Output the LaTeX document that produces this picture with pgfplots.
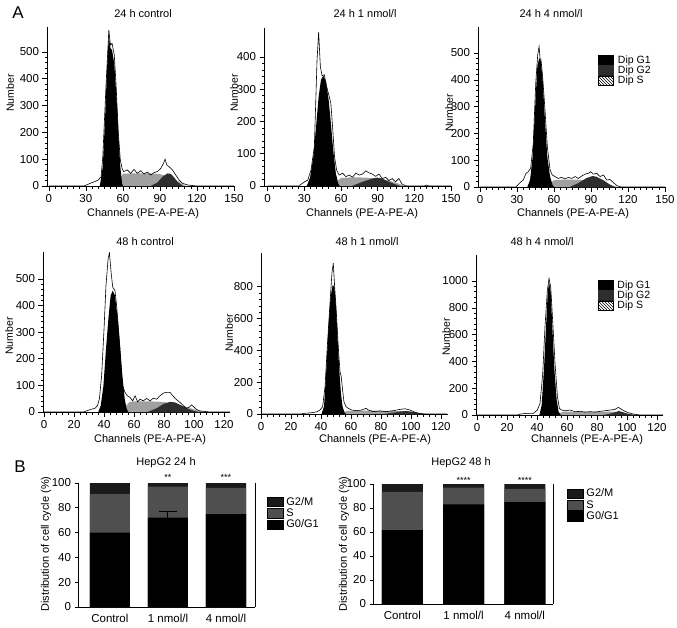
\documentclass[border=0pt]{standalone}
\usepackage{fontspec}
\setmainfont{Liberation Sans}
\usepackage{pgfplots}
\pgfplotsset{compat=1.18}
\usetikzlibrary{patterns}
\definecolor{sgray}{HTML}{A0A0A0}
\definecolor{gtwo}{HTML}{2E2E2E}
\definecolor{bS}{HTML}{4F4F4F}
\definecolor{bG}{HTML}{1A1A1A}
\pgfplotsset{
  hist/.style={
    scale only axis, anchor=south west, width=187pt,
    axis x line*=bottom, axis y line*=left,
    axis line style={line width=0.8pt, -},
    tick align=outside,
    major tick length=4.5pt, minor tick length=2.5pt,
    every tick/.style={black, line width=0.6pt},
    tick label style={font=\fontsize{11.5}{13}\selectfont},
    /pgf/number format/assume math mode=true,
    /pgf/number format/1000 sep={},
    ymin=0,
  },
  hrow1/.style={hist, xmax=150, xtick={0,30,...,150}, minor x tick num=5},
  hrow2/.style={hist, xmax=124, xtick={0,20,...,120}, minor x tick num=4},
  g1/.style={fill=black, draw=none},
  sfill/.style={fill=sgray, draw=none},
  g2fill/.style={fill=gtwo, draw=none},
  env/.style={black, line width=0.6pt, mark=none},
  histleg/.style={legend cell align=left,
    legend style={anchor=north west, draw=none, fill=none, inner sep=0pt, outer sep=0pt,
      font=\fontsize{10.5}{11}\selectfont, row sep=0pt, nodes={inner ysep=0.6pt, inner xsep=4.5pt}},
    legend image code/.code={\path[##1] (0pt,-4.8pt) rectangle (15pt,4.8pt);}},
  bbar/.style={scale only axis, anchor=south west, ymin=0, ymax=100, ytick={0,20,...,100},
    xtick={0,1,2}, xticklabels={Control,1 nmol/l,4 nmol/l}, clip=false,
    axis x line*=bottom, axis y line*=left, axis line style={line width=0.9pt,-},
    tick align=outside, major tick length=3.5pt, every tick/.style={black,line width=0.8pt},
    xtick style={draw=none},
    tick label style={font=\fontsize{11.5}{13}\selectfont},
    /pgf/number format/assume math mode=true,
    legend cell align=left,
    legend style={anchor=north west, draw=none, fill=none, inner sep=0pt, outer sep=0pt,
      font=\fontsize{11}{12}\selectfont, row sep=0pt, nodes={inner ysep=1pt, inner xsep=3pt}},
    legend image code/.code={\path[##1] (0pt,-4.7pt) rectangle (16pt,4.7pt);}},
  errb/.style={mark=none, draw=none, forget plot, error bars/.cd, y dir=plus, y explicit,
    error bar style={draw=black, line width=1pt},
    error mark options={draw=black, rotate=90, mark size=9pt, line width=1pt}},
}
\begin{document}
\begin{tikzpicture}
\useasboundingbox (0,0) rectangle (677pt,-627pt);
\fill[white] (0,0) rectangle (677pt,-627pt);

% ---------- Panel 1: 24 h control
\begin{axis}[hrow1, at={(47pt,-186pt)}, height=159pt, xmin=-1.5, ymax=593, ytick={0,100,...,500}, minor y tick num=4]
\addplot[sfill] coordinates {(56,0) (58,30) (60,46) (70,47) (80,47) (86,46) (90,44) (95,38) (100,30) (104,20) (108,8) (111,0)} \closedcycle;
\addplot[g2fill] coordinates {(82.5,0) (88,13) (92,34) (96.1,47) (98.8,45) (101.5,32) (104.2,15) (108.3,1) (109,0)} \closedcycle;
\addplot[g1] coordinates {(41.3,0) (43.7,72) (45.6,259) (47.2,445) (48.6,560) (49.9,514) (51.2,507) (53,457) (54.9,321) (56.6,172) (57.9,72) (59.3,10) (60,0)} \closedcycle;
\addplot[env] coordinates {(0,0) (28.3,0) (30,3) (34.6,12) (37,16) (39.9,22) (42.3,34) (43.7,109) (46.4,383) (48.6,582) (49.9,526) (51.2,532) (53,489) (54.4,383) (56.3,197) (57.9,97) (59.3,66) (60.6,54) (63.6,60) (66.3,47) (69,62) (71.7,47) (74.4,57) (77.1,45) (79.8,52) (82.5,41) (85.2,50) (88,54) (90.7,66) (92.9,85) (94.2,100) (95.5,79) (97.4,72) (100.1,60) (102.8,41) (105.6,22) (108.3,10) (112.3,4) (117.7,1) (120,0) (150,0)};
\end{axis}

% ---------- Panel 2: 24 h 1 nmol/l
\begin{axis}[hrow1, at={(264pt,-186pt)}, height=158pt, xmin=-3, ymax=490, ytick={0,100,...,400}, minor y tick num=4]
\addplot[sfill] coordinates {(55,0) (57,15) (60,25) (70,27) (80,26) (88,24) (95,20) (102,14) (108,6) (112,0)} \closedcycle;
\addplot[g2fill] coordinates {(69,0) (77.6,13) (85.6,23) (89.7,26) (93.8,23) (99.2,13) (104.6,5) (108.7,0)} \closedcycle;
\addplot[g1] coordinates {(32,0) (34.7,26) (37.4,91) (39.6,184) (41.7,277) (43.6,329) (45.5,342) (47.7,324) (49.9,267) (51.7,195) (53.6,112) (55.8,39) (57.7,8) (59,0)} \closedcycle;
\addplot[env] coordinates {(0,0) (26,0) (26.5,3) (30.1,13) (32.8,18) (35.5,50) (38.2,123) (40.4,391) (41.7,477) (43.1,371) (44.5,342) (46.3,345) (48.2,309) (50.4,277) (51.7,256) (53.1,184) (54.7,91) (56.4,50) (58.5,34) (61.3,40) (64,29) (66.7,34) (69.4,27) (72.1,40) (74.8,34) (77.6,37) (80.2,47) (82.9,41) (85.6,37) (88.4,30) (91.1,37) (93.8,23) (96.5,27) (99.2,17) (101.9,23) (104.6,13) (107.3,23) (110,6) (112.7,1) (115,0) (128,0) (130,3) (132,0) (150,0)};
\end{axis}

% ---------- Panel 3: 24 h 4 nmol/l
\begin{axis}[hrow1, histleg, at={(478pt,-187pt)}, height=160pt, xmin=-1.6, ymax=597, ytick={0,100,...,500}, minor y tick num=4,
  legend style={at={(0.642,0.825)}}]
\addplot[sfill, forget plot] coordinates {(55,0) (57,15) (60,25) (65,27) (70,28) (75,28) (80,27) (86,25) (92,20) (98,14) (104,8) (110,2) (113,0)} \closedcycle;
\addplot[g2fill, forget plot] coordinates {(73,0) (79.8,15) (86.6,34) (91.4,41) (94.6,38) (100.1,25) (105.4,9) (109.5,0)} \closedcycle;
\addplot[g1, forget plot] coordinates {(38.4,0) (40.6,26) (42.7,113) (44.6,288) (46.5,449) (47.9,480) (49.2,474) (50.8,400) (52.7,250) (54.6,113) (56.8,39) (58.9,7) (60.3,0)} \closedcycle;
\addplot[env, forget plot] coordinates {(0,0) (29.2,0) (32.4,16) (35.1,26) (37.3,51) (39.2,57) (41.1,70) (43.2,163) (45.2,387) (46.8,493) (47.9,524) (48.7,480) (49.5,474) (50.8,412) (52.7,288) (54.6,151) (56.8,64) (58.6,45) (60.8,39) (63.5,32) (66.2,36) (69,30) (71.6,36) (74.4,32) (77.1,39) (79.8,32) (82.5,41) (85.2,48) (87.9,51) (89.8,57) (92,48) (94.6,51) (97.3,39) (100.1,45) (102.7,26) (105.4,28) (108.2,16) (110.8,6) (113.5,1) (116,0) (150,0)};
\addlegendimage{fill=black, draw=black}
\addlegendentry{Dip G1}
\addlegendimage{fill=gtwo, draw=gtwo}
\addlegendentry{Dip G2}
\addlegendimage{draw=black, pattern=north west lines}
\addlegendentry{Dip S}
\end{axis}

% ---------- Panel 4: 48 h control
\begin{axis}[hrow2, at={(43pt,-412pt)}, height=160pt, xmin=-0.7, ymax=601, ytick={0,100,...,500}, minor y tick num=4]
\addplot[sfill] coordinates {(53,0) (55,25) (57,38) (60,40) (65,40) (70,40) (75,39) (80,37) (85,33) (90,27) (95,19) (100,10) (105,3) (108,0)} \closedcycle;
\addplot[g2fill] coordinates {(69,0) (75.1,14) (79.6,30) (84,38) (87.3,36) (91.8,24) (96.2,11) (100.7,3) (103,0)} \closedcycle;
\addplot[g1] coordinates {(36.2,0) (37.8,24) (39.6,99) (41.3,237) (42.9,350) (44.4,437) (45.8,456) (47.3,437) (48.9,362) (50.7,250) (52.2,137) (53.8,49) (55.1,11) (56.2,0)} \closedcycle;
\addplot[env] coordinates {(0,0) (26,0) (27.3,2) (30.7,9) (34,14) (35.6,24) (36.9,49) (38.4,137) (40,312) (41.3,475) (42.7,575) (43.6,598) (44.7,525) (45.8,469) (47.3,456) (48.4,400) (49.8,300) (51.1,187) (52.4,99) (54,74) (55.5,61) (57.3,55) (59.1,42) (60.7,61) (62.4,38) (64,48) (66.2,42) (68.4,51) (70.7,42) (72.9,52) (75.1,48) (77.3,61) (79.6,71) (81.8,74) (84,74) (85.8,61) (88,48) (90.7,36) (92.9,24) (95.1,14) (96.9,18) (98.4,27) (100,18) (101.8,9) (104,4) (107.3,2) (110.7,0) (124,0)};
\end{axis}

% ---------- Panel 5: 48 h 1 nmol/l
\begin{axis}[hrow2, at={(261pt,-414pt)}, height=161pt, xmin=0, xmax=124.7, ymax=1012, ytick={0,200,...,800}, minor y tick num=4]
\addplot[sfill] coordinates {(54,0) (56,15) (58,20) (65,21) (75,21) (85,20) (92,18) (98,13) (104,6) (108,0)} \closedcycle;
\addplot[g2fill] coordinates {(82,0) (88,8) (93,16) (97,19) (101,14) (105,6) (110,0)} \closedcycle;
\addplot[g1] coordinates {(40.4,0) (42,46) (43.3,235) (44.9,528) (46.4,738) (47.8,811) (48.9,801) (50,675) (51.1,465) (52.2,277) (53.3,130) (54.4,46) (55.8,8) (56.7,0)} \closedcycle;
\addplot[env] coordinates {(0,0) (27,0) (28.2,4) (32.7,7) (37.1,13) (39.3,25) (41.1,46) (42.7,172) (44.2,423) (46,696) (47.3,885) (48.2,948) (49.1,801) (50,675) (50.9,528) (51.8,382) (52.7,266) (53.5,235) (54.4,151) (55.3,77) (56.7,46) (58.2,36) (60.4,25) (63.8,21) (67.1,25) (70,36) (71.6,25) (74.9,15) (79.3,19) (83.8,15) (88.2,21) (92.7,29) (96,33) (99.3,25) (102.7,11) (106,2) (110.4,0) (124,0)};
\end{axis}

% ---------- Panel 6: 48 h 4 nmol/l
\begin{axis}[hrow2, histleg, at={(476pt,-415pt)}, height=160pt, xmin=-0.7, ymax=1194, ytick={0,200,...,1000}, minor y tick num=4,
  legend style={at={(0.65,0.844)}}]
\addplot[sfill, forget plot] coordinates {(53,0) (55,15) (58,25) (65,24) (75,22) (85,24) (90,26) (95,22) (100,12) (104,4) (107,0)} \closedcycle;
\addplot[g2fill, forget plot] coordinates {(84,0) (88,8) (92,20) (94.5,30) (97,22) (100,10) (104,2) (106,0)} \closedcycle;
\addplot[g1, forget plot] coordinates {(41.6,0) (43.1,75) (44.7,361) (46,659) (47.1,908) (48,995) (49.1,920) (50.2,659) (51.6,336) (53.1,112) (54.4,25) (55.8,0)} \closedcycle;
\addplot[env, forget plot] coordinates {(0,0) (27,0) (28.7,7) (33.1,12) (37.6,12) (40.2,37) (42,87) (43.8,311) (45.3,659) (46.9,933) (48,1020) (49.1,958) (50.4,709) (52,385) (53.6,137) (54.9,50) (56.4,37) (58.7,32) (62,37) (65.3,25) (68.7,27) (72,22) (75.3,25) (78.7,22) (82,27) (85.3,32) (88.7,37) (92,42) (94.2,57) (96.4,42) (98.7,27) (100.9,17) (104.2,7) (108.7,0) (124,0)};
\addlegendimage{fill=black, draw=black}
\addlegendentry{Dip G1}
\addlegendimage{fill=gtwo, draw=gtwo}
\addlegendentry{Dip G2}
\addlegendimage{draw=black, pattern=north west lines}
\addlegendentry{Dip S}
\end{axis}

% ---------- B: HepG2 24 h
\begin{axis}[bbar, at={(78pt,-607pt)}, width=177pt, height=124pt, xmin=-0.55, xmax=2.5,
  legend style={at={(1.068,0.895)}}]
\addplot[ybar, bar width=0.69, bar shift=0pt, fill=bG, draw=none, forget plot] coordinates {(0,100) (1,100) (2,100)};
\addplot[ybar, bar width=0.69, bar shift=0pt, fill=bS, draw=none, forget plot] coordinates {(0,91) (1,97) (2,96)};
\addplot[ybar, bar width=0.69, bar shift=0pt, fill=black, draw=none, forget plot] coordinates {(0,60) (1,72) (2,75)};
\addplot[errb] coordinates {(1,72) +- (0,5)};
\addlegendimage{fill=bG}
\addlegendentry{G2/M}
\addlegendimage{fill=bS}
\addlegendentry{S}
\addlegendimage{fill=black}
\addlegendentry{G0/G1}
\draw[line width=0.9pt] (rel axis cs:1,0) -- (rel axis cs:1,1);
\node[anchor=base, yshift=2.5pt, font=\fontsize{9}{10}\selectfont] at (axis cs:1,100) {**};
\node[anchor=base, yshift=2.5pt, font=\fontsize{9}{10}\selectfont] at (axis cs:2,100) {***};
\end{axis}

% ---------- B: HepG2 48 h
\begin{axis}[bbar, at={(373pt,-604pt)}, width=180pt, height=120pt, xmin=-0.48, xmax=2.46,
  legend style={at={(1.078,0.967)}}]
\addplot[ybar, bar width=0.67, bar shift=0pt, fill=bG, draw=none, forget plot] coordinates {(0,100) (1,100) (2,100)};
\addplot[ybar, bar width=0.67, bar shift=0pt, fill=bS, draw=none, forget plot] coordinates {(0,93.5) (1,97) (2,96)};
\addplot[ybar, bar width=0.67, bar shift=0pt, fill=black, draw=none, forget plot] coordinates {(0,61.5) (1,83) (2,85)};
\addlegendimage{fill=bG}
\addlegendentry{G2/M}
\addlegendimage{fill=bS}
\addlegendentry{S}
\addlegendimage{fill=black}
\addlegendentry{G0/G1}
\draw[line width=0.9pt] (rel axis cs:1,0) -- (rel axis cs:1,1);
\node[anchor=base, yshift=1pt, font=\fontsize{9}{10}\selectfont] at (axis cs:1,100) {****};
\node[anchor=base, yshift=1pt, font=\fontsize{9}{10}\selectfont] at (axis cs:2,100) {****};
\end{axis}

% ---------- text
\node[font=\fontsize{17}{20}\selectfont] at (18pt,-13pt) {A};
\node[font=\fontsize{17}{20}\selectfont] at (20pt,-467pt) {B};
\begin{scope}[every node/.style={font=\fontsize{11}{13}\selectfont}]
\node at (143pt,-14pt) {24 h control};
\node at (365pt,-14pt) {24 h 1 nmol/l};
\node at (551pt,-14pt) {24 h 4 nmol/l};
\node at (145pt,-242pt) {48 h control};
\node at (367pt,-242pt) {48 h 1 nmol/l};
\node at (542pt,-242pt) {48 h 4 nmol/l};
\node at (143pt,-214pt) {Channels (PE-A-PE-A)};
\node at (362pt,-214pt) {Channels (PE-A-PE-A)};
\node at (573pt,-214pt) {Channels (PE-A-PE-A)};
\node at (150pt,-440pt) {Channels (PE-A-PE-A)};
\node at (375pt,-440pt) {Channels (PE-A-PE-A)};
\node at (587pt,-440pt) {Channels (PE-A-PE-A)};
\node at (166pt,-463pt) {HepG2 24 h};
\node at (461pt,-463pt) {HepG2 48 h};
\node[rotate=90] at (46pt,-544pt) {Distribution of cell cycle (\%)};
\node[rotate=90] at (344pt,-544pt) {Distribution of cell cycle (\%)};
\end{scope}
\begin{scope}[every node/.style={font=\fontsize{10.5}{12}\selectfont, rotate=90}]
\node at (10pt,-93pt) {Number};
\node at (234pt,-93pt) {Number};
\node at (449pt,-113pt) {Number};
\node at (9pt,-336pt) {Number};
\node at (229pt,-333pt) {Number};
\node at (446pt,-337pt) {Number};
\end{scope}
\end{tikzpicture}
\end{document}
